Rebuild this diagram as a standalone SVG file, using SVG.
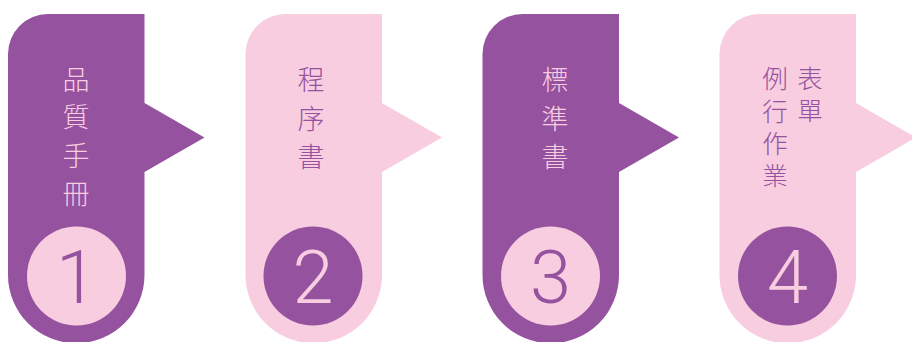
<svg xmlns="http://www.w3.org/2000/svg" width="912" height="342" viewBox="0 0 912 342">
<style>
.purple{fill:#95529F}
.pink{fill:#F8CDE0}
.cjk{font-family:"Noto Sans CJK TC","Noto Sans CJK SC",sans-serif;font-size:27px;font-weight:300;text-anchor:middle}
.sm{font-size:25.5px}
.num{font-family:Roboto,"Liberation Sans",sans-serif;font-size:74px;font-weight:300;text-anchor:middle}
.tp{fill:#F8CDE0}
.tu{fill:#95529F}
</style>
<defs>
<path id="tab" d="M0,54 A40,40 0 0 1 40,14 H136.5 V103 L196.5,137.5 L136.5,172 V275 A68.25,68.25 0 0 1 0,275 Z"/>
</defs>
<g id="connectors"></g>
<g id="node1">
<use href="#tab" x="8" class="purple"/>
<circle cx="76.5" cy="276" r="49.5" class="pink"/>
<text class="num tu" x="76.5" y="303">1</text>
<text class="cjk tp" x="76" y="89.5">品</text>
<text class="cjk tp" x="76" y="127">質</text>
<text class="cjk tp" x="76" y="165.5">手</text>
<text class="cjk tp" x="76" y="204">冊</text>
</g>
<g id="node2">
<use href="#tab" x="245.5" class="pink"/>
<circle cx="313" cy="276" r="49.5" class="purple"/>
<text class="num tp" x="313" y="303">2</text>
<text class="cjk tu" x="311" y="90">程</text>
<text class="cjk tu" x="311" y="128.5">序</text>
<text class="cjk tu" x="311" y="167">書</text>
</g>
<g id="node3">
<use href="#tab" x="482.5" class="purple"/>
<circle cx="550.5" cy="276" r="49.5" class="pink"/>
<text class="num tu" x="550.5" y="303">3</text>
<text class="cjk tp" x="555" y="90">標</text>
<text class="cjk tp" x="555" y="128.5">準</text>
<text class="cjk tp" x="555" y="167">書</text>
</g>
<g id="node4">
<use href="#tab" x="719.5" class="pink"/>
<circle cx="787.5" cy="276" r="49.5" class="purple"/>
<text class="num tp" x="787.5" y="303">4</text>
<text class="cjk sm tu" x="810" y="87.5">表</text>
<text class="cjk sm tu" x="810" y="119.5">單</text>
<text class="cjk sm tu" x="775" y="87.5">例</text>
<text class="cjk sm tu" x="775" y="120.5">行</text>
<text class="cjk sm tu" x="775" y="152.5">作</text>
<text class="cjk sm tu" x="775" y="184.5">業</text>
</g>
</svg>
